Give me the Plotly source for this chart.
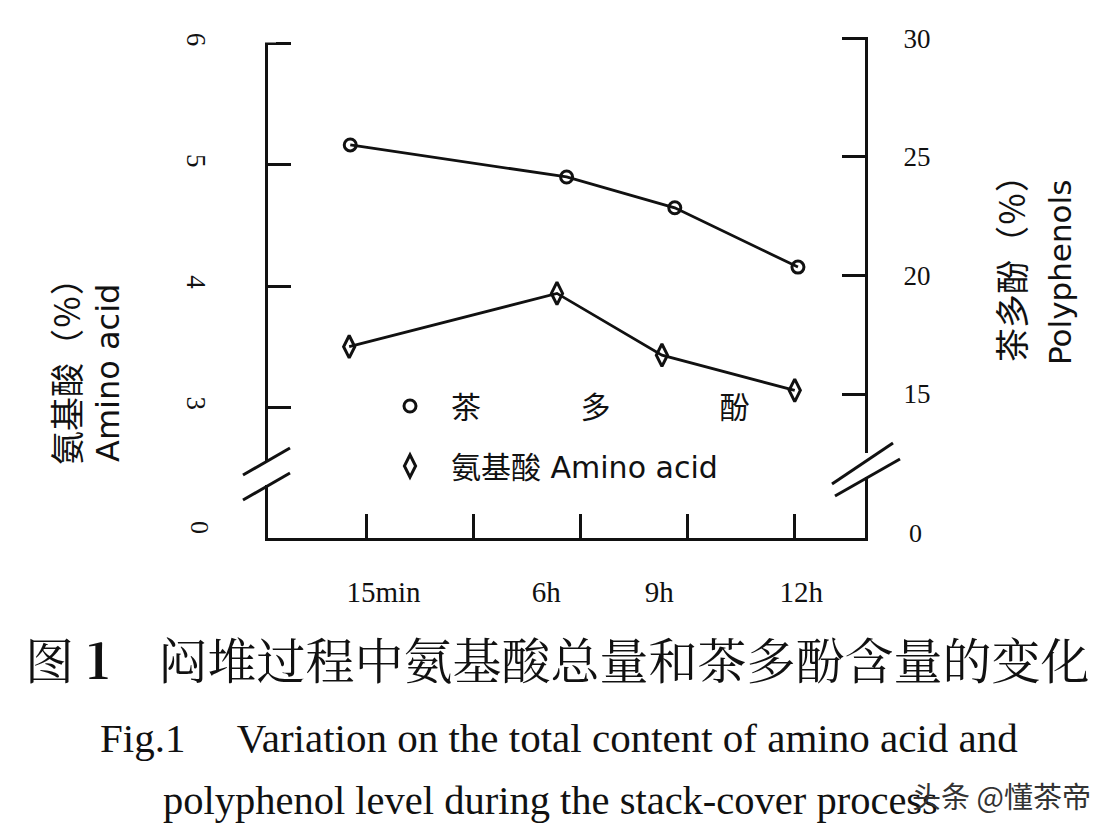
import plotly.graph_objects as go

W, H = 1114, 840
# plot box as measured on the reference picture (pixels)
L, R, T, B = 268, 865, 37, 538
OFF = 8  # the page body adds an 8px margin around the figure

# ---------------- data ----------------
time_labels = ["15min", "6h", "9h", "12h"]
label_pos = [0.16, 1.68, 2.735, 4.06]          # where the labels sit along the time axis
axis_ticks = [0, 1, 2, 3, 4]                    # tick marks on the time axis
poly_x = [-0.15, 1.87, 2.88, 4.03]              # polyphenol points, axis position
poly_vals = [25.5, 24.15, 22.85, 20.35]         # polyphenols (%)
amino_x = [-0.16, 1.78, 2.76, 4.00]             # amino acid points, axis position
amino_vals = [3.50, 3.94, 3.43, 3.14]           # amino acid (%)
left_ticks = [3, 4, 5, 6]
right_ticks = [15, 20, 25, 30]

X_RANGE = [-0.918, 4.656]
YL_RANGE = [1.922, 6.055]
YR_RANGE = [8.93, 30.05]


def px(x):
    return (x - L) / (R - L)


def py(y):
    return (B - y) / (B - T)


SERIF = "Liberation Serif, Times New Roman, serif"
SANS = "DejaVu Sans, Noto Sans CJK SC, sans-serif"
CJK = "Noto Sans CJK SC, sans-serif"
INK = "#111111"

fig = go.Figure()

fig.add_trace(go.Scatter(
    x=poly_x, y=poly_vals, yaxis="y2", mode="lines+markers",
    line=dict(color=INK, width=2.8),
    marker=dict(symbol="circle-open", size=12, color=INK, line=dict(width=3)),
    showlegend=False, cliponaxis=False,
))
fig.add_trace(go.Scatter(
    x=amino_x, y=amino_vals, yaxis="y", mode="lines+markers",
    line=dict(color=INK, width=2.8),
    marker=dict(symbol="diamond-tall-open", size=16, color=INK, line=dict(width=3)),
    showlegend=False, cliponaxis=False,
))

# legend entries (marker only, as in the original key)
fig.add_trace(go.Scatter(
    x=[None], y=[None], xaxis="x2", mode="markers",
    name="茶\u3000\u3000\u3000\u00a0多\u3000\u3000\u3000\u00a0\u00a0酚",
    marker=dict(symbol="circle-open", size=12, color=INK, line=dict(width=3)),
    legendgroup="a",
))
fig.add_trace(go.Scatter(
    x=[None], y=[None], xaxis="x2", mode="markers",
    name="氨基酸 Amino acid",
    marker=dict(symbol="diamond-tall-open", size=16, color=INK, line=dict(width=3)),
    legendgroup="b",
))

shapes = []
# gaps in the axes at the breaks, and trim of the left axis above its top tick
for (x0, x1, y0, y1) in [(258, 280, 462, 485), (855, 876, 453, 477), (258, 276, 28, 42.5)]:
    shapes.append(dict(type="rect", xref="paper", yref="paper",
                       x0=px(x0), x1=px(x1), y0=py(y1), y1=py(y0),
                       fillcolor="white", line=dict(width=0), layer="above"))
# break slashes
for (x0, y0, x1, y1) in [(243, 475, 290, 448), (243, 500, 290, 473),
                         (832, 484, 893, 443), (835, 496, 900, 459)]:
    shapes.append(dict(type="line", xref="paper", yref="paper",
                       x0=px(x0), y0=py(y0), x1=px(x1), y1=py(y1),
                       line=dict(color=INK, width=3), layer="above"))


def note(x, y, text, size, family, angle=0, color=INK):
    return dict(x=px(x), y=py(y), xref="paper", yref="paper", text=text,
                textangle=angle, showarrow=False, xanchor="center", yanchor="middle",
                font=dict(family=family, size=size, color=color))


annotations = [
    note(65, 363, "氨基酸（％）", 34, CJK, -90),
    note(108, 373, "Amino acid", 32, SANS, -90),
    note(1010, 260, "茶多酚（％）", 34, CJK, -90),
    note(1060, 273, "Polyphenols", 31, SANS, -90),
    note(200, 527, "0", 26, SERIF, 90),
    note(915, 533, "0", 26, SERIF),
    note(557, 658, "图 <b>1</b>\u3000闷堆过程中氨基酸总量和茶多酚含量的变化", 49,
         "Noto Serif CJK SC, " + CJK),
    note(559, 738,
         "Fig.1\u00a0\u00a0\u00a0\u00a0\u00a0Variation on the total content of amino acid and",
         41, SERIF),
    note(550, 800, "polyphenol level during the stack-cover process", 40.5, SERIF),
    note(1001, 795, "头条 @懂茶帝", 29, CJK, 0, "#333333"),
]

axis_common = dict(showgrid=False, zeroline=False, linecolor=INK, tickcolor=INK)

fig.update_layout(
    width=W, height=H,
    margin=dict(l=L - OFF, r=W - (R - OFF), t=T - OFF, b=H - (B - OFF), pad=0,
                autoexpand=False),
    paper_bgcolor="white", plot_bgcolor="white",
    xaxis=dict(range=X_RANGE, tickvals=axis_ticks, showticklabels=False,
               ticks="inside", ticklen=24, tickwidth=2.5,
               showline=True, linewidth=3, **axis_common),
    xaxis2=dict(range=X_RANGE, overlaying="x", side="bottom", anchor="y",
                tickmode="array", tickvals=label_pos, ticktext=time_labels,
                ticks="", showline=False, showgrid=False, zeroline=False,
                ticklabelstandoff=34,
                tickfont=dict(family=SERIF, size=29, color=INK)),
    yaxis=dict(range=YL_RANGE, tickvals=left_ticks, ticks="inside", ticklen=23,
               tickwidth=2.5, tickangle=90, showline=True, linewidth=3,
               ticklabelstandoff=46,
               tickfont=dict(family=SERIF, size=27, color=INK), **axis_common),
    yaxis2=dict(range=YR_RANGE, tickvals=right_ticks, overlaying="y", side="right",
                anchor="x", ticks="inside", ticklen=23, tickwidth=2.5,
                showline=True, linewidth=3, ticklabelstandoff=30,
                tickfont=dict(family=SERIF, size=27, color=INK), **axis_common),
    legend=dict(x=px(369), y=py(380), xanchor="left", yanchor="top",
                bgcolor="rgba(0,0,0,0)", font=dict(family=SANS, size=30, color=INK),
                tracegroupgap=18, itemwidth=72, itemclick=False),
    shapes=shapes,
    annotations=annotations,
)

fig.write_html("out.html")
